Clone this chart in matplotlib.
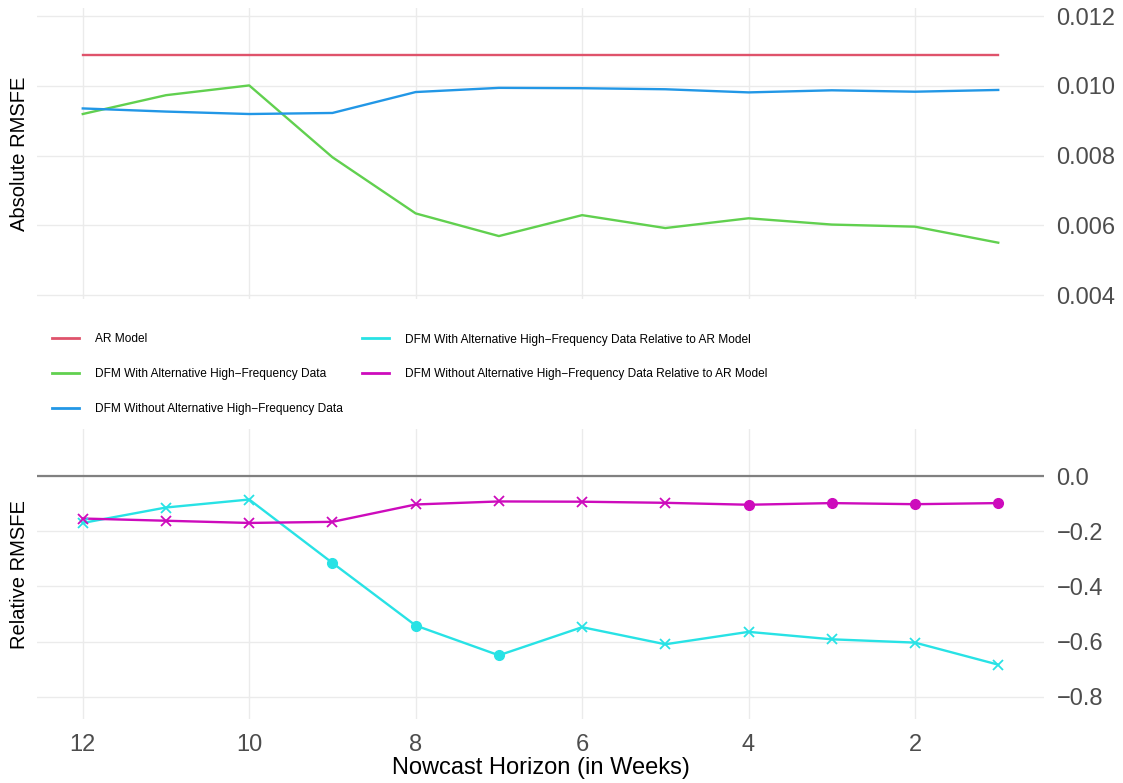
import matplotlib
matplotlib.use("Agg")
import matplotlib.pyplot as plt
from matplotlib.lines import Line2D

plt.rcParams['font.family'] = ['Liberation Sans', 'DejaVu Sans']

# Data
horizon = [12, 11, 10, 9, 8, 7, 6, 5, 4, 3, 2, 1]

ar_model = [0.01088] * 12
dfm_with = [0.00919, 0.00973, 0.01001, 0.00795, 0.00634, 0.00569,
            0.00629, 0.00592, 0.00620, 0.00602, 0.00596, 0.00550]
dfm_without = [0.00935, 0.00926, 0.00919, 0.00922, 0.00982, 0.00994,
               0.00993, 0.00990, 0.00981, 0.00987, 0.00983, 0.00988]

rel_with = [-0.170, -0.114, -0.085, -0.315, -0.542, -0.650,
            -0.548, -0.610, -0.565, -0.592, -0.604, -0.684]
rel_without = [-0.154, -0.162, -0.170, -0.166, -0.103, -0.092,
               -0.093, -0.097, -0.104, -0.098, -0.102, -0.098]
# dot = significant, cross = not
sig_with = [False, False, False, True, True, True,
            False, False, False, False, False, False]
sig_without = [False, False, False, False, False, False,
               False, False, True, True, True, True]

top_ticks = [0.004, 0.006, 0.008, 0.010, 0.012]
bottom_ticks = [0.0, -0.2, -0.4, -0.6, -0.8]
x_ticks = [12, 10, 8, 6, 4, 2]

labels = ["AR Model",
          "DFM With Alternative High\u2212Frequency Data",
          "DFM Without Alternative High\u2212Frequency Data",
          "DFM With Alternative High\u2212Frequency Data Relative to AR Model",
          "DFM Without Alternative High\u2212Frequency Data Relative to AR Model"]
colors = ["#DF536B", "#61D04F", "#2297E6", "#28E2E5", "#CD0BBC"]

W, H = 1123, 783
fig = plt.figure(figsize=(W / 100, H / 100), dpi=100)


def px_axes(x0, y0, x1, y1):
    return fig.add_axes([x0 / W, 1 - y1 / H, (x1 - x0) / W, (y1 - y0) / H])


def style(ax, ticks, fmt):
    for s in ax.spines.values():
        s.set_visible(False)
    ax.yaxis.tick_right()
    ax.set_xlim(12.55, 0.45)
    ax.set_xticks(x_ticks)
    ax.set_yticks(ticks)
    ax.set_yticklabels([fmt(t) for t in ticks])
    ax.grid(True, color="#EBEBEB", lw=1.0)
    ax.set_axisbelow(True)
    ax.tick_params(length=0, labelsize=17, colors="#4D4D4D", pad=9)


ax1 = px_axes(37, 8, 1044, 299.3)
ax1.plot(horizon, ar_model, color=colors[0], lw=1.7)
ax1.plot(horizon, dfm_with, color=colors[1], lw=1.7)
ax1.plot(horizon, dfm_without, color=colors[2], lw=1.7)
ax1.set_ylim(0.003877, 0.01223)
style(ax1, top_ticks, lambda v: f"{v:.3f}")
ax1.tick_params(axis="x", labelbottom=False)
ax1.set_ylabel("Absolute RMSFE", fontsize=14.5)
ax1.yaxis.set_label_position("left")
ax1.yaxis.set_label_coords(-0.008, 0.5)

ax2 = px_axes(37, 429.3, 1044, 719)
ax2.axhline(0, color="#808080", lw=1.6, zorder=1)
for vals, sig, c in [(rel_with, sig_with, colors[3]),
                     (rel_without, sig_without, colors[4])]:
    ax2.plot(horizon, vals, color=c, lw=1.7, zorder=2)
    for h, v, s in zip(horizon, vals, sig):
        if s:
            ax2.plot(h, v, "o", color=c, ms=7, zorder=3)
        else:
            ax2.plot(h, v, "x", color=c, ms=7.5, mew=1.3, zorder=3)
ax2.set_ylim(-0.881, 0.1696)
style(ax2, bottom_ticks, lambda v: f"{v:.1f}".replace("-", "\u2212"))
ax2.tick_params(axis="x", pad=11)
ax2.set_ylabel("Relative RMSFE", fontsize=14.5)
ax2.yaxis.set_label_position("left")
ax2.yaxis.set_label_coords(-0.008, 0.5)
ax2.set_xlabel("Nowcast Horizon (in Weeks)", fontsize=17)
ax2.xaxis.set_label_coords(0.5, -0.13)

handles = [Line2D([], [], color=c, lw=2) for c in colors]
fig.legend(handles, labels, loc="upper left", bbox_to_anchor=(51.7 / W, 1 - 333.5 / H),
           ncol=2, frameon=False, fontsize=8.6, borderpad=0, borderaxespad=0,
           handlelength=2.3, handletextpad=1.3, columnspacing=1.6, labelspacing=1.9)

fig.savefig("out.png", dpi=100, facecolor="white")
